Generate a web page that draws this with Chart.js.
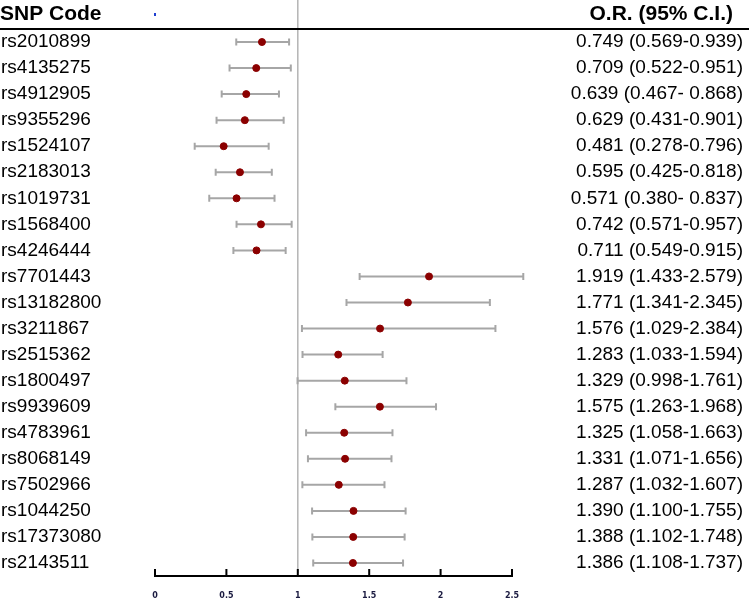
<!DOCTYPE html>
<html>
<head>
<meta charset="utf-8">
<script src="https://cdn.jsdelivr.net/npm/chart.js@4/dist/chart.umd.min.js"></script>
<style>
  html, body { margin: 0; padding: 0; background: #fff; }
  #wrap { width: 749px; height: 600px; }
</style>
</head>
<body>
<div id="wrap"><canvas id="myChart"></canvas></div>
<script>
// SNP codes, top to bottom
const snps = ['rs2010899', 'rs4135275', 'rs4912905', 'rs9355296', 'rs1524107', 'rs2183013',
    'rs1019731', 'rs1568400', 'rs4246444', 'rs7701443', 'rs13182800', 'rs3211867', 'rs2515362',
    'rs1800497', 'rs9939609', 'rs4783961', 'rs8068149', 'rs7502966', 'rs1044250', 'rs17373080',
    'rs2143511'];
const oddsRatio = [0.749, 0.709, 0.639, 0.629, 0.481, 0.595, 0.571, 0.742, 0.711, 1.919, 1.771,
    1.576, 1.283, 1.329, 1.575, 1.325, 1.331, 1.287, 1.390, 1.388, 1.386];
const ciLow = [0.569, 0.522, 0.467, 0.431, 0.278, 0.425, 0.380, 0.571, 0.549, 1.433, 1.341,
    1.029, 1.033, 0.998, 1.263, 1.058, 1.071, 1.032, 1.100, 1.102, 1.108];
const ciHigh = [0.939, 0.951, 0.868, 0.901, 0.796, 0.818, 0.837, 0.957, 0.915, 2.579, 2.345,
    2.384, 1.594, 1.761, 1.968, 1.663, 1.656, 1.607, 1.755, 1.748, 1.737];
// texts of the right column, as printed
const ciText = ['0.749 (0.569-0.939)', '0.709 (0.522-0.951)', '0.639 (0.467- 0.868)',
    '0.629 (0.431-0.901)', '0.481 (0.278-0.796)', '0.595 (0.425-0.818)', '0.571 (0.380- 0.837)',
    '0.742 (0.571-0.957)', '0.711 (0.549-0.915)', '1.919 (1.433-2.579)', '1.771 (1.341-2.345)',
    '1.576 (1.029-2.384)', '1.283 (1.033-1.594)', '1.329 (0.998-1.761)', '1.575 (1.263-1.968)',
    '1.325 (1.058-1.663)', '1.331 (1.071-1.656)', '1.287 (1.032-1.607)', '1.390 (1.100-1.755)',
    '1.388 (1.102-1.748)', '1.386 (1.108-1.737)'];
const xTicks = [0, 0.5, 1, 1.5, 2, 2.5];

const FONT = '"Liberation Sans", Arial, sans-serif';

// dessine les barres d'erreur, la ligne de référence, l'axe et les en-têtes
const forestPlugin = {
    id: 'forest',
    beforeDatasetsDraw(chart) {
        const ctx = chart.ctx;
        const x = chart.scales.x;
        const y = chart.scales.y;
        ctx.save();
        // ligne verticale à 1
        ctx.strokeStyle = '#b4b4b4';
        ctx.lineWidth = 1.5;
        ctx.beginPath();
        ctx.moveTo(x.getPixelForValue(1), 0);
        ctx.lineTo(x.getPixelForValue(1), chart.chartArea.bottom - 3);
        ctx.stroke();
        // intervalles de confiance
        ctx.strokeStyle = '#a6a6a6';
        ctx.lineWidth = 2;
        snps.forEach((s, i) => {
            const py = y.getPixelForValue(i);
            const x1 = x.getPixelForValue(ciLow[i]);
            const x2 = x.getPixelForValue(ciHigh[i]);
            ctx.beginPath();
            ctx.moveTo(x1, py);
            ctx.lineTo(x2, py);
            ctx.moveTo(x1, py - 3.5);
            ctx.lineTo(x1, py + 3.5);
            ctx.moveTo(x2, py - 3.5);
            ctx.lineTo(x2, py + 3.5);
            ctx.stroke();
        });
        ctx.restore();
    },
    afterDraw(chart) {
        const ctx = chart.ctx;
        const x = chart.scales.x;
        const bottom = chart.chartArea.bottom;
        ctx.save();
        // axe x, graduations vers le haut
        ctx.strokeStyle = '#000';
        ctx.lineWidth = 2;
        ctx.beginPath();
        ctx.moveTo(x.getPixelForValue(0) - 1, bottom);
        ctx.lineTo(x.getPixelForValue(2.5) + 1, bottom);
        xTicks.forEach(t => {
            ctx.moveTo(x.getPixelForValue(t), bottom);
            ctx.lineTo(x.getPixelForValue(t), bottom - 7);
        });
        ctx.stroke();
        // en-têtes
        ctx.fillStyle = '#000';
        ctx.font = 'bold 21px ' + FONT;
        ctx.textBaseline = 'middle';
        ctx.textAlign = 'left';
        ctx.fillText('SNP Code', 0, 14);
        ctx.textAlign = 'right';
        ctx.fillText('O.R. (95% C.I.)', 733, 14);
        ctx.fillRect(0, 28, chart.width, 2);
        // petit point bleu
        ctx.fillStyle = '#1f3fd0';
        ctx.fillRect(x.getPixelForValue(0) - 1, 13, 2, 3);
        ctx.restore();
    }
};

const ctx = document.getElementById('myChart').getContext('2d');
new Chart(ctx, {
    type: 'scatter',
    data: {
        datasets: [{
            data: oddsRatio.map((v, i) => ({ x: v, y: i })),
            backgroundColor: '#8b0000',
            borderColor: '#8b0000',
            pointRadius: 3.5,
            pointHoverRadius: 3.5
        }]
    },
    options: {
        responsive: true,
        maintainAspectRatio: false,
        animation: false,
        layout: { padding: { top: 29, bottom: 0, left: 1, right: 6 } },
        plugins: {
            legend: { display: false },
            tooltip: { enabled: false }
        },
        scales: {
            x: {
                type: 'linear',
                min: 0,
                max: 2.5,
                afterBuildTicks: s => { s.ticks = xTicks.map(v => ({ value: v })); },
                afterFit: s => { s.height = 24; },
                grid: { display: false },
                border: { display: false },
                ticks: {
                    padding: 7,
                    color: '#1a1a40',
                    font: { family: '"DejaVu Sans", sans-serif', size: 8, weight: 'bold' },
                    callback: v => String(v)
                }
            },
            y: {
                type: 'linear',
                position: 'left',
                min: -0.5,
                max: snps.length - 0.5,
                reverse: true,
                afterBuildTicks: s => { s.ticks = snps.map((_, i) => ({ value: i })); },
                afterFit: s => {
                    s.width = 154;
                    s.paddingTop = 0;
                    s.paddingBottom = 0;
                },
                grid: { display: false },
                border: { display: false },
                ticks: {
                    crossAlign: 'far',
                    padding: 0,
                    color: '#000',
                    font: { family: FONT, size: 19 },
                    callback: v => snps[v]
                }
            },
            y2: {
                type: 'linear',
                position: 'right',
                min: -0.5,
                max: snps.length - 0.5,
                reverse: true,
                afterBuildTicks: s => { s.ticks = snps.map((_, i) => ({ value: i })); },
                afterFit: s => {
                    s.width = 231;
                    s.paddingTop = 0;
                    s.paddingBottom = 0;
                },
                grid: { display: false },
                border: { display: false },
                ticks: {
                    crossAlign: 'far',
                    padding: 0,
                    color: '#000',
                    font: { family: FONT, size: 19 },
                    callback: v => ciText[v]
                }
            }
        }
    },
    plugins: [forestPlugin]
});
</script>
</body>
</html>
